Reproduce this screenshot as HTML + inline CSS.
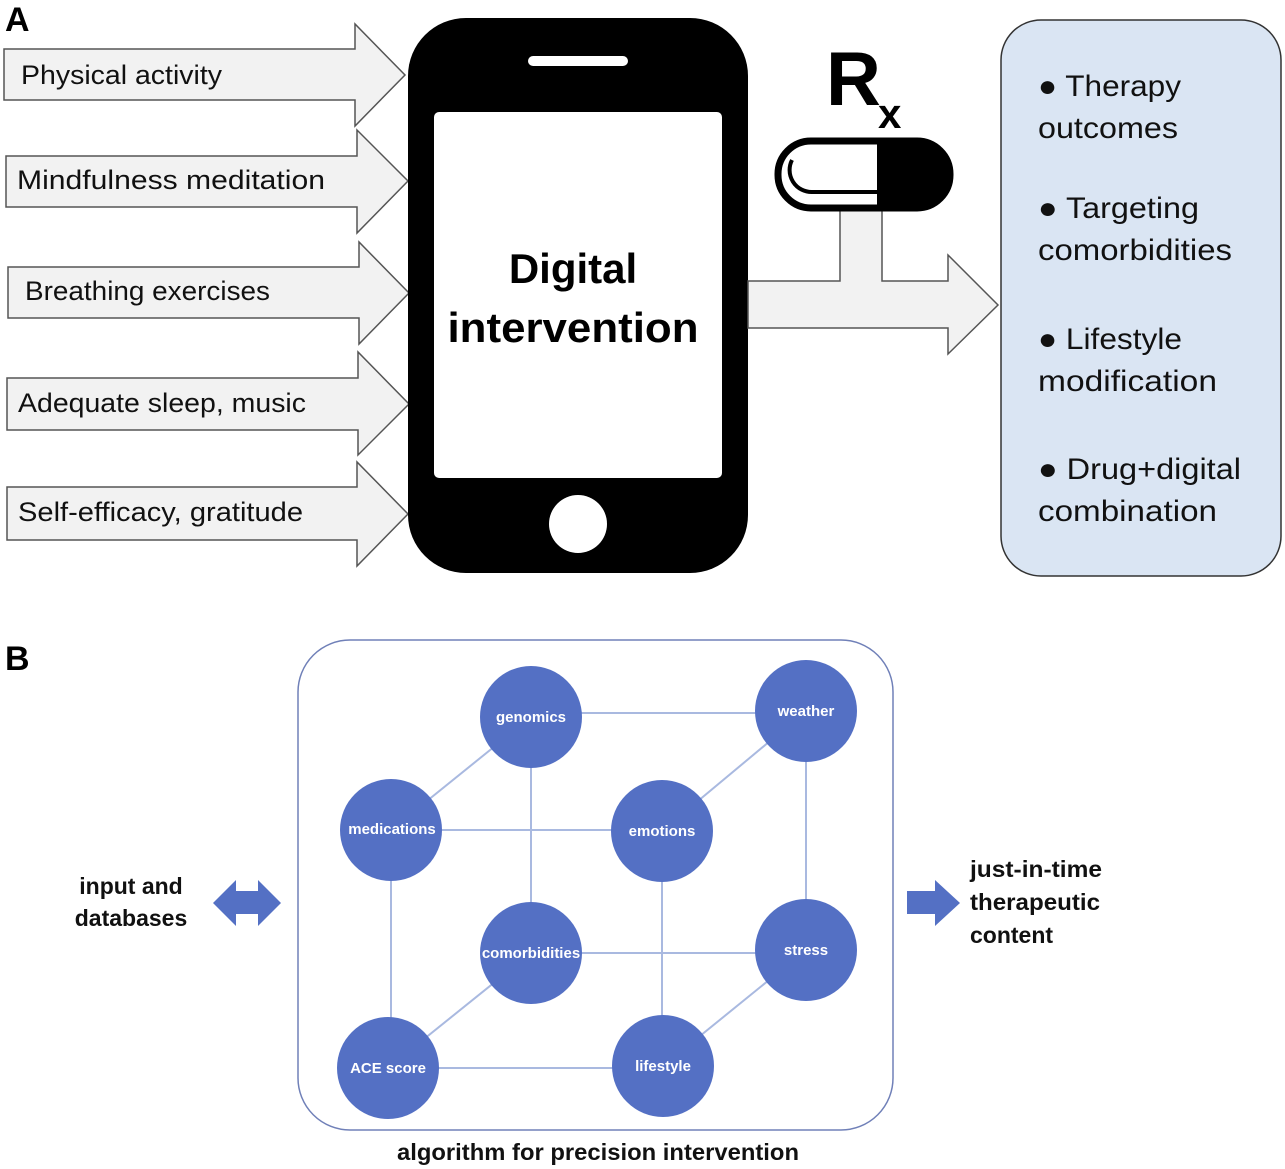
<!DOCTYPE html>
<html><head><style>
body{margin:0;background:#fff;width:1285px;height:1169px;overflow:hidden}
svg{display:block}
</style></head><body>
<svg width="1285" height="1169" viewBox="0 0 1285 1169" xmlns="http://www.w3.org/2000/svg" font-family="'Liberation Sans', 'DejaVu Sans', sans-serif">
<text x="5" y="31" font-size="34" font-weight="bold">A</text>
<text x="5" y="670" font-size="34" font-weight="bold">B</text>
<g fill="#f2f2f2" stroke="#555" stroke-width="1.5">
<polygon points="4,49 355,49 355,24 405,75 355,126 355,100 4,100"/>
<polygon points="6,156 357,156 357,130 408,181 357,233 357,207 6,207"/>
<polygon points="8,267 359,267 359,242 409,293 359,344 359,318 8,318"/>
<polygon points="7,378 358,378 358,352 409,404 358,455 358,430 7,430"/>
<polygon points="7,487 357,487 357,462 408,514 357,566 357,540 7,540"/>
</g>
<g font-size="27" fill="#111">
<text x="21" y="84" textLength="201" lengthAdjust="spacingAndGlyphs">Physical activity</text>
<text x="17" y="189" textLength="308" lengthAdjust="spacingAndGlyphs">Mindfulness meditation</text>
<text x="25" y="300" textLength="245" lengthAdjust="spacingAndGlyphs">Breathing exercises</text>
<text x="18" y="412" textLength="288" lengthAdjust="spacingAndGlyphs">Adequate sleep, music</text>
<text x="18" y="521" textLength="285" lengthAdjust="spacingAndGlyphs">Self-efficacy, gratitude</text>
</g>
<rect x="408" y="18" width="340" height="555" rx="58" fill="#000"/>
<rect x="434" y="112" width="288" height="366" rx="5" fill="#fff"/>
<rect x="528" y="56" width="100" height="10" rx="5" fill="#fff"/>
<circle cx="578" cy="524" r="29" fill="#fff"/>
<text x="573" y="283" font-size="42" font-weight="bold" text-anchor="middle">Digital</text>
<text x="573" y="342" font-size="42" font-weight="bold" text-anchor="middle" textLength="251" lengthAdjust="spacingAndGlyphs">intervention</text>
<polygon points="748,281 840,281 840,210 882,210 882,281 948,281 948,255 998,305 948,354 948,328 748,328" fill="#f2f2f2" stroke="#555" stroke-width="1.5"/>
<rect x="778" y="141" width="172" height="67" rx="33" fill="#fff" stroke="#000" stroke-width="7"/>
<path d="M877,141 L917,141 A33,33 0 0 1 917,208 L877,208 Z" fill="#000"/>
<path d="M792,160 A22,22 0 0 0 812,192 L878,192" fill="none" stroke="#000" stroke-width="4"/>
<text x="826" y="105" font-size="76" font-weight="bold">R</text>
<text x="878" y="128" font-size="42" font-weight="bold">x</text>
<rect x="1001" y="20" width="280" height="556" rx="40" fill="#dae5f3" stroke="#333" stroke-width="1.5"/>
<g font-size="30" fill="#111">
<text x="1038" y="96" textLength="143" lengthAdjust="spacingAndGlyphs">● Therapy</text><text x="1038" y="138" textLength="140" lengthAdjust="spacingAndGlyphs">outcomes</text>
<text x="1038" y="218" textLength="161" lengthAdjust="spacingAndGlyphs">● Targeting</text><text x="1038" y="260" textLength="194" lengthAdjust="spacingAndGlyphs">comorbidities</text>
<text x="1038" y="349" textLength="144" lengthAdjust="spacingAndGlyphs">● Lifestyle</text><text x="1038" y="391" textLength="179" lengthAdjust="spacingAndGlyphs">modification</text>
<text x="1038" y="479" textLength="203" lengthAdjust="spacingAndGlyphs">● Drug+digital</text><text x="1038" y="521" textLength="179" lengthAdjust="spacingAndGlyphs">combination</text>
</g>
<rect x="298" y="640" width="595" height="490" rx="52" fill="#fff" stroke="#7080b8" stroke-width="1.5"/>
<g stroke="#a9b9e0" stroke-width="2">
<line x1="531" y1="713" x2="806" y2="713"/>
<line x1="531" y1="717" x2="391" y2="830"/>
<line x1="391" y1="830" x2="662" y2="830"/>
<line x1="662" y1="831" x2="806" y2="711"/>
<line x1="531" y1="717" x2="531" y2="953"/>
<line x1="391" y1="830" x2="391" y2="1068"/>
<line x1="662" y1="831" x2="662" y2="1066"/>
<line x1="806" y1="711" x2="806" y2="950"/>
<line x1="531" y1="953" x2="806" y2="953"/>
<line x1="531" y1="953" x2="388" y2="1068"/>
<line x1="388" y1="1068" x2="663" y2="1068"/>
<line x1="663" y1="1066" x2="806" y2="950"/>
</g>
<g fill="#5470c4">
<circle cx="531" cy="717" r="51"/><circle cx="806" cy="711" r="51"/>
<circle cx="391" cy="830" r="51"/><circle cx="662" cy="831" r="51"/>
<circle cx="531" cy="953" r="51"/><circle cx="806" cy="950" r="51"/>
<circle cx="388" cy="1068" r="51"/><circle cx="663" cy="1066" r="51"/>
</g>
<g fill="#fff" font-size="15" font-weight="bold" text-anchor="middle">
<text x="531" y="722">genomics</text><text x="806" y="716">weather</text>
<text x="392" y="834">medications</text><text x="662" y="836">emotions</text>
<text x="531" y="958">comorbidities</text><text x="806" y="955">stress</text>
<text x="388" y="1073">ACE score</text><text x="663" y="1071">lifestyle</text>
</g>
<polygon points="213,903 236,880 236,891 258,891 258,880 281,903 258,926 258,914 236,914 236,926" fill="#5470c4"/>
<polygon points="907,891 935,891 935,880 960,903 935,926 935,914 907,914" fill="#5470c4"/>
<g font-size="23" font-weight="bold" fill="#111">
<text x="131" y="894" text-anchor="middle">input and</text>
<text x="131" y="926" text-anchor="middle">databases</text>
<text x="970" y="877" textLength="132" lengthAdjust="spacingAndGlyphs">just-in-time</text>
<text x="970" y="910" textLength="130" lengthAdjust="spacingAndGlyphs">therapeutic</text>
<text x="970" y="943">content</text>
<text x="598" y="1160" text-anchor="middle" textLength="402" lengthAdjust="spacingAndGlyphs">algorithm for precision intervention</text>
</g>
</svg>
</body></html>
